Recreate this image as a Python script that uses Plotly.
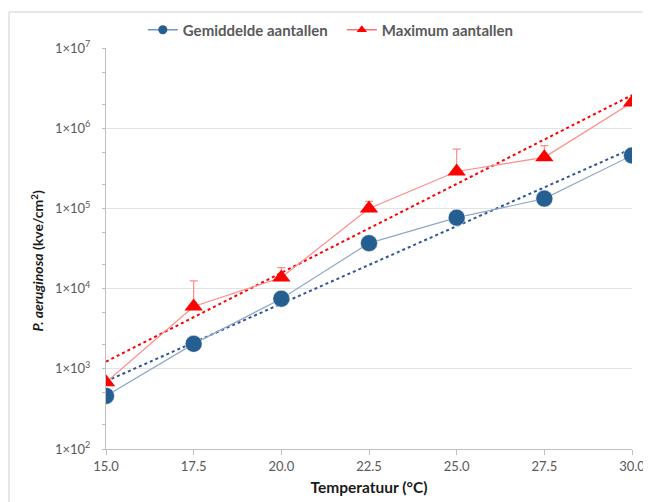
import plotly.graph_objects as go

temps = [15.0, 17.5, 20.0, 22.5, 25.0, 27.5, 30.0]
gemiddelde = [460, 2050, 7500, 37000, 77000, 133000, 460000]
maximum = [680, 6000, 13800, 100000, 290000, 435000, 2100000]
maximum_err_plus = [0, 6500, 4500, 23000, 260000, 175000, 0]

trend_x = [15.0, 30.0]
gemiddelde_trend = [700, 560000]
maximum_trend = [1230, 2600000]

y_tickvals = [1e2, 1e3, 1e4, 1e5, 1e6, 1e7]
y_ticktext = ["1×10<sup>2</sup>", "1×10<sup>3</sup>", "1×10<sup>4</sup>",
              "1×10<sup>5</sup>", "1×10<sup>6</sup>", "1×10<sup>7</sup>"]
x_tickvals = [15.0, 17.5, 20.0, 22.5, 25.0, 27.5, 30.0]

BLUE = "#255E91"
BLUE_LINE = "#8EA9C8"
BLUE_TREND = "#2F5597"
RED = "#FF0000"
RED_LINE = "#FF8C8C"
FONT = "Lato"
GREY_TXT = "#595959"

fig = go.Figure()

fig.add_trace(go.Scatter(x=trend_x, y=gemiddelde_trend, mode="lines",
                         line=dict(color=BLUE_TREND, width=2, dash="dot"),
                         showlegend=False, hoverinfo="skip"))
fig.add_trace(go.Scatter(x=trend_x, y=maximum_trend, mode="lines",
                         line=dict(color=RED, width=2, dash="dot"),
                         showlegend=False, hoverinfo="skip"))

fig.add_trace(go.Scatter(x=temps, y=gemiddelde, mode="lines+markers",
                         name="Gemiddelde aantallen", showlegend=False,
                         line=dict(color=BLUE_LINE, width=1.2),
                         marker=dict(symbol="circle", size=17, color=BLUE,
                                     line=dict(color="white", width=0.5))))
fig.add_trace(go.Scatter(x=temps, y=maximum, mode="lines+markers",
                         name="Maximum aantallen", showlegend=False,
                         line=dict(color=RED_LINE, width=1.2),
                         marker=dict(symbol="triangle-up", size=16, color=RED),
                         error_y=dict(type="data", symmetric=False,
                                      array=maximum_err_plus,
                                      arrayminus=[0] * len(maximum),
                                      color=RED_LINE, thickness=1.2, width=4)))

# legend entries (small symbols as in the reference legend)
fig.add_trace(go.Scatter(x=[None], y=[None], mode="lines+markers",
                         name="Gemiddelde aantallen",
                         line=dict(color="#6F95C2", width=1.5),
                         marker=dict(symbol="circle", size=9, color=BLUE)))
fig.add_trace(go.Scatter(x=[None], y=[None], mode="lines+markers",
                         name="Maximum aantallen",
                         line=dict(color="#FF6E6E", width=1.5),
                         marker=dict(symbol="triangle-up", size=9, color=RED)))

fig.update_layout(
    width=643, height=494,
    margin=dict(l=98, r=19, t=40, b=53, autoexpand=False),
    paper_bgcolor="white", plot_bgcolor="white",
    font=dict(family=FONT, color=GREY_TXT, size=13),
    legend=dict(orientation="h", x=0.07, xanchor="left", y=1.045, yanchor="middle",
                font=dict(size=15, color=GREY_TXT, weight="bold"), itemwidth=30,
                entrywidth=154, entrywidthmode="pixels",
                bgcolor="rgba(0,0,0,0)"),
    showlegend=True,
    shapes=[dict(type="rect", xref="paper", yref="paper",
                 x0=-0.1844, x1=1.2, y0=-0.3, y1=1.0898,
                 line=dict(color="#D0D0D0", width=1), fillcolor="rgba(0,0,0,0)",
                 layer="above")],
    annotations=[dict(text="<b><i>P. aeruginosa</i> (kve/cm<sup>2</sup>)</b>",
                      xref="paper", yref="paper", x=-0.131, y=0.47,
                      xanchor="center", yanchor="middle", textangle=-90,
                      showarrow=False, font=dict(size=14, color="#1A1A1A"))],
)

fig.update_xaxes(
    range=[15, 30], tickvals=x_tickvals, tickformat=".1f",
    showgrid=False, showline=True, linecolor="#BFBFBF", linewidth=1,
    ticks="outside", ticklen=5, tickcolor="#BFBFBF",
    tickfont=dict(size=13, color=GREY_TXT),
    title=dict(text="<b>Temperatuur (°C)</b>", font=dict(size=15.5, color="#1A1A1A"),
               standoff=9),
    zeroline=False,
)
fig.update_yaxes(
    type="log", range=[2, 7.003], tickvals=y_tickvals, ticktext=y_ticktext,
    showgrid=True, gridcolor="#E3E3E3", gridwidth=1,
    showline=True, linecolor="#BFBFBF", linewidth=1,
    ticks="", ticklabelstandoff=12,
    minor=dict(ticks="outside", ticklen=3, tickcolor="#BFBFBF", showgrid=False),
    tickfont=dict(size=13, color=GREY_TXT),
    zeroline=False,
)

fig.write_html("out.html")
